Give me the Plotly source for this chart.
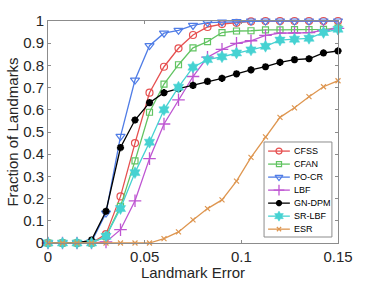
import plotly.graph_objects as go

# ---- data ----
landmark_error = [round(0.0075 * i, 4) for i in range(21)]
series_names = ["CFSS", "CFAN", "PO-CR", "LBF", "GN-DPM", "SR-LBF", "ESR"]
cfss = [0, 0, 0, 0, 0.04, 0.21, 0.45, 0.677, 0.794, 0.877, 0.937, 0.973, 0.986, 0.992, 0.998, 1, 1, 1, 1, 1, 1]
cfan = [0, 0, 0, 0, 0.03, 0.165, 0.37, 0.589, 0.716, 0.803, 0.879, 0.907, 0.948, 0.955, 0.956, 0.96, 0.96, 0.961, 0.961, 0.962, 0.968]
pocr = [0, 0, 0, 0.005, 0.135, 0.48, 0.734, 0.889, 0.945, 0.958, 0.98, 0.993, 0.995, 0.997, 1, 1, 1, 1, 1, 1, 1]
lbf = [0, 0, 0, 0, 0.005, 0.06, 0.19, 0.38, 0.536, 0.645, 0.75, 0.837, 0.872, 0.899, 0.911, 0.935, 0.945, 0.946, 0.948, 0.958, 0.967]
gndpm = [0, 0, 0, 0.013, 0.143, 0.43, 0.554, 0.632, 0.677, 0.695, 0.71, 0.728, 0.742, 0.762, 0.78, 0.794, 0.814, 0.826, 0.83, 0.856, 0.865]
srlbf = [0, 0, 0, 0, 0.03, 0.155, 0.317, 0.454, 0.6, 0.702, 0.792, 0.826, 0.839, 0.856, 0.87, 0.886, 0.914, 0.918, 0.922, 0.948, 0.963]
esr = [0, 0, 0, 0, 0, 0, 0, 0, 0.02, 0.05, 0.104, 0.155, 0.194, 0.279, 0.386, 0.478, 0.566, 0.609, 0.659, 0.704, 0.731]
x_tickvals = [0, 0.05, 0.1, 0.15]
x_ticktext = ["0", "0.05", "0.1", "0.15"]
y_tickvals = [i / 10 for i in range(11)]
y_ticktext = ["0", "0.1", "0.2", "0.3", "0.4", "0.5", "0.6", "0.7", "0.8", "0.9", "1"]

values = [cfss, cfan, pocr, lbf, gndpm, srlbf, esr]

# ---- styles ----
colors = ["#E65050", "#62C462", "#507DE6", "#BE55D2", "#000000", "#46D2D2", "#DE9650"]
symbols = ["circle-open", "square-open", "triangle-down-open", "cross-thin-open",
           "asterisk-open", "hexagram", "x-thin-open"]
sizes = [7, 6, 8, 9, 6, 9, 5]
mlw = [1.2, 1.2, 1.2, 1.3, 2.2, 0.5, 1.2]

FONT = "Liberation Sans, Arial, Helvetica, sans-serif"

fig = go.Figure()
for name, ys, c, s, sz, w in zip(series_names, values, colors, symbols, sizes, mlw):
    fig.add_trace(go.Scatter(
        x=landmark_error, y=ys, mode="lines+markers", name=name,
        line=dict(color=c, width=1.3),
        marker=dict(symbol=s, size=sz, color=c, line=dict(color=c, width=w)),
        showlegend=False, cliponaxis=False,
    ))

# ---- manual legend (drawn through an overlay axis in plot fractions) ----
leg_x0, leg_x1, leg_y0, leg_y1 = 0.745, 0.979, 0.027, 0.455
row_top, row_step = 0.414, 0.0586
samp_x0, samp_x1, text_x = 0.759, 0.834, 0.841
annotations = []
for i, (name, c, s, sz, w) in enumerate(zip(series_names, colors, symbols, sizes, mlw)):
    yy = row_top - i * row_step
    fig.add_trace(go.Scatter(
        x=[samp_x0, samp_x1], y=[yy, yy], mode="lines", xaxis="x2", yaxis="y2",
        line=dict(color=c, width=1.3), showlegend=False, hoverinfo="skip"))
    fig.add_trace(go.Scatter(
        x=[(samp_x0 + samp_x1) / 2], y=[yy], mode="markers", xaxis="x2", yaxis="y2",
        marker=dict(symbol=s, size=sz * 0.85, color=c, line=dict(color=c, width=w)),
        showlegend=False, hoverinfo="skip"))
    annotations.append(dict(x=text_x, y=yy, xref="paper", yref="paper", text=name,
                            showarrow=False, xanchor="left", yanchor="middle",
                            font=dict(family=FONT, size=9, color="#000000")))

axis_common = dict(showgrid=False, zeroline=False, showline=True, linecolor="#8c8c8c",
                   linewidth=1, mirror="ticks", ticks="inside", ticklen=3,
                   tickcolor="#8c8c8c", automargin=False,
                   tickfont=dict(family=FONT, size=15, color="#262626"))

fig.update_layout(
    width=374, height=281,
    margin=dict(l=48, r=36, t=21, b=38),
    paper_bgcolor="white", plot_bgcolor="white",
    font=dict(family=FONT, size=15, color="#262626"),
    xaxis=dict(range=[0, 0.15], tickvals=x_tickvals, ticktext=x_ticktext,
               title=dict(text="Landmark Error", font=dict(size=15), standoff=0),
               **axis_common),
    yaxis=dict(range=[0, 1], tickvals=y_tickvals, ticktext=y_ticktext,
               title=dict(text="Fraction of Landmarks", font=dict(size=15), standoff=0),
               **axis_common),
    xaxis2=dict(range=[0, 1], overlaying="x", visible=False, fixedrange=True),
    yaxis2=dict(range=[0, 1], overlaying="y", visible=False, fixedrange=True),
    shapes=[dict(type="rect", xref="paper", yref="paper", x0=leg_x0, x1=leg_x1,
                 y0=leg_y0, y1=leg_y1, line=dict(color="#8c8c8c", width=1),
                 fillcolor="white", layer="below")],
    annotations=annotations,
    showlegend=False,
)

fig.write_html("out.html", config={"displayModeBar": False},
               post_script="document.body.style.margin='0';document.body.style.padding='0';")
